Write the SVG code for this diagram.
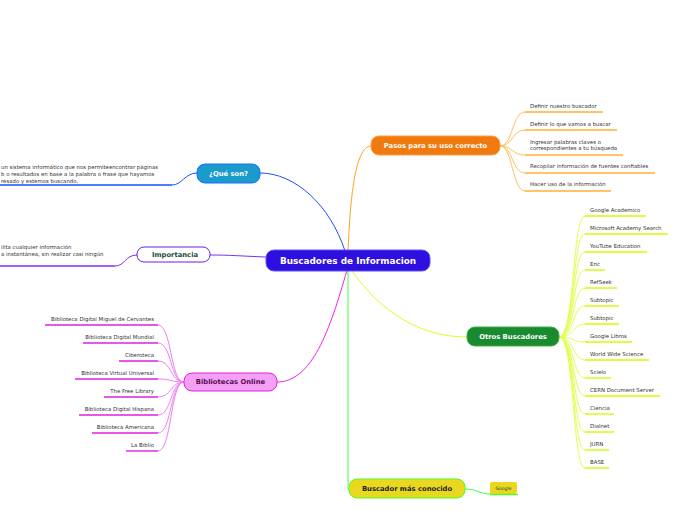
<svg xmlns="http://www.w3.org/2000/svg" width="696" height="520" viewBox="0 0 696 520">
<style>
text{font-family:"DejaVu Sans","Liberation Sans",sans-serif}
.t{font-size:5.4px;fill:#333}
.n{font-size:6.8px;font-weight:bold;text-anchor:middle;dominant-baseline:central}
.c{fill:none;stroke-width:1}
.u{fill:none;stroke-width:1.4}
</style>
<rect width="696" height="520" fill="#fff"/>
<g id="connectors">
<path class="c" stroke="#1a4fff" d="M345,251 C330,205 295,173 260,173"/>
<path class="c" stroke="#7b2ff7" d="M266,257 C240,256 230,255 210,255"/>
<path class="c" stroke="#ffa020" d="M348,252 C350,200 355,146 371,146"/>
<path class="c" stroke="#d4ff20" d="M350,268 C380,312 420,337 467,337"/>
<path class="c" stroke="#f020f0" d="M347,270 C330,330 312,382 277,382"/>
<path class="c" stroke="#40ff40" d="M348,270 L348,489 L349,489"/>
<path class="c" stroke="#40ff40" d="M465,489 C478,489 478,494 491,494"/>
<path class="c" stroke="#1a4fff" d="M197,173 C185,173 182,185 172,185"/>
<path class="c" stroke="#7b2ff7" d="M137,255 C125,255 125,266 115,266"/>
<g stroke="#ffc060" class="c">
<path d="M500,146 C513,146 512,112 525,112"/>
<path d="M500,146 C513,146 512,130 525,130"/>
<path d="M500,146 C513,146 512,155 525,155"/>
<path d="M500,146 C513,146 512,173 525,173"/>
<path d="M500,146 C513,146 512,191 525,191"/>
</g>
<g stroke="#e0ff50" class="c">
<path d="M559,337 C575,337 572,216 585,216"/>
<path d="M559,337 C575,337 572,234 585,234"/>
<path d="M559,337 C575,337 572,252 585,252"/>
<path d="M559,337 C575,337 572,270 585,270"/>
<path d="M559,337 C575,337 572,288 585,288"/>
<path d="M559,337 C575,337 572,306 585,306"/>
<path d="M559,337 C575,337 572,324 585,324"/>
<path d="M559,337 C575,337 572,342 585,342"/>
<path d="M559,337 C575,337 572,360 585,360"/>
<path d="M559,337 C575,337 572,378 585,378"/>
<path d="M559,337 C575,337 572,396 585,396"/>
<path d="M559,337 C575,337 572,414 585,414"/>
<path d="M559,337 C575,337 572,432 585,432"/>
<path d="M559,337 C575,337 572,450 585,450"/>
<path d="M559,337 C575,337 572,468 585,468"/>
</g>
<g stroke="#f080f0" class="c">
<path d="M184,382 C170,382 172,325 158,325"/>
<path d="M184,382 C170,382 172,343 158,343"/>
<path d="M184,382 C170,382 172,361 158,361"/>
<path d="M184,382 C170,382 172,379 158,379"/>
<path d="M184,382 C170,382 172,397 158,397"/>
<path d="M184,382 C170,382 172,415 158,415"/>
<path d="M184,382 C170,382 172,433 158,433"/>
<path d="M184,382 C170,382 172,451 158,451"/>
</g>
</g>
<g id="center">
<rect x="266" y="250" width="164" height="21" rx="8" fill="#2e0fe0" stroke="#5a50ff"/>
<text class="n" x="348" y="261" fill="#fff" style="font-size:8.9px">Buscadores de Informacion</text>
</g>
<g id="que-son">
<rect x="197" y="164" width="63" height="19" rx="8" fill="#1a9bcc" stroke="#1a6fff"/>
<text class="n" x="228.5" y="173.5" fill="#fff">¿Qué son?</text>
<path class="u" stroke="#1a4fff" d="M0,185 H172"/>
<text class="t" x="1" y="169">un sistema informático que nos permiteencontrar páginas</text>
<text class="t" x="1" y="176">b o resultados en base a la palabra o frase que hayamos</text>
<text class="t" x="1" y="183">resado y estemos buscando.</text>
</g>
<g id="importancia">
<rect x="137" y="247" width="73" height="15" rx="7" fill="#fff" stroke="#6a1ee0"/>
<text class="n" x="175" y="254.5" fill="#1a4d3a">Importancia</text>
<path class="u" stroke="#7b2ff7" d="M0,266 H115"/>
<text class="t" x="1" y="249">ilita cualquier información</text>
<text class="t" x="1" y="256">a instantánea, sin realizar casi ningún</text>
</g>
<g id="pasos">
<rect x="371" y="136" width="129" height="19" rx="8" fill="#f07a10" stroke="#ffa040"/>
<text class="n" x="435.5" y="145.5" fill="#fff">Pasos para su uso correcto</text>
<g stroke="#ffb030" class="u">
<path d="M525,112 H603"/>
<path d="M525,130 H617"/>
<path d="M525,155 H623"/>
<path d="M525,173 H655"/>
<path d="M525,191 H611"/>
</g>
<text class="t" x="530" y="107.5">Definir nuestro buscador</text>
<text class="t" x="530" y="125.5">Definir lo que vamos a buscar</text>
<text class="t" x="530" y="143.5">Ingresar palabras claves o</text>
<text class="t" x="530" y="150">correspondientes a tu búsqueda</text>
<text class="t" x="530" y="167.5">Recopilar información de fuentes confiables</text>
<text class="t" x="530" y="185.5">Hacer uso de la información</text>
</g>
<g id="otros">
<rect x="467" y="327" width="92" height="19" rx="8" fill="#1a8a30" stroke="#40b040"/>
<text class="n" x="513" y="336.5" fill="#fff">Otros Buscadores</text>
<g stroke="#ccff00" class="u">
<path d="M585,216 H646"/>
<path d="M585,234 H668"/>
<path d="M585,252 H647"/>
<path d="M585,270 H605"/>
<path d="M585,288 H617"/>
<path d="M585,306 H619"/>
<path d="M585,324 H619"/>
<path d="M585,342 H632"/>
<path d="M585,360 H649"/>
<path d="M585,378 H611"/>
<path d="M585,396 H660"/>
<path d="M585,414 H614"/>
<path d="M585,432 H614"/>
<path d="M585,450 H609"/>
<path d="M585,468 H609"/>
</g>
<text class="t" x="590" y="211.8">Google Academico</text>
<text class="t" x="590" y="229.8">Microsoft Academy Search</text>
<text class="t" x="590" y="247.8">YouTube Education</text>
<text class="t" x="590" y="265.8">Eric</text>
<text class="t" x="590" y="283.8">RefSeek</text>
<text class="t" x="590" y="301.8">Subtopic</text>
<text class="t" x="590" y="319.8">Subtopic</text>
<text class="t" x="590" y="337.8">Google Libros</text>
<text class="t" x="590" y="355.8">World Wide Science</text>
<text class="t" x="590" y="373.8">Scielo</text>
<text class="t" x="590" y="391.8">CERN Document Server</text>
<text class="t" x="590" y="409.8">Ciencia</text>
<text class="t" x="590" y="427.8">Dialnet</text>
<text class="t" x="590" y="445.8">JURN</text>
<text class="t" x="590" y="463.8">BASE</text>
</g>
<g id="bibliotecas">
<rect x="184" y="373" width="93" height="18" rx="8" fill="#f4a0f4" stroke="#e020e0"/>
<text class="n" x="230.5" y="382" fill="#5a0a5a">Bibliotecas Online</text>
<g stroke="#e020e0" class="u">
<path d="M45,325 H158"/>
<path d="M83,343 H158"/>
<path d="M119,361 H158"/>
<path d="M75,379 H158"/>
<path d="M104,397 H158"/>
<path d="M79,415 H158"/>
<path d="M92,433 H158"/>
<path d="M126,451 H158"/>
</g>
<g class="t" style="text-anchor:end">
<text x="154" y="320.8">Biblioteca Digital Miguel de Cervantes</text>
<text x="154" y="338.8">Biblioteca Digital Mundial</text>
<text x="154" y="356.8">Ciberoteca</text>
<text x="154" y="374.8">Biblioteca Virtual Universal</text>
<text x="154" y="392.8">The Free Library</text>
<text x="154" y="410.8">Biblioteca Digital Hispana</text>
<text x="154" y="428.8">Biblioteca Americana</text>
<text x="154" y="446.8">La Biblio</text>
</g>
</g>
<g id="conocido">
<rect x="349" y="479" width="116" height="19" rx="8" fill="#e8d820" stroke="#50ff20"/>
<text class="n" x="407" y="488.5" fill="#222">Buscador más conocido</text>
</g>
<g id="google">
<rect x="490" y="482" width="27" height="12" rx="2" fill="#e8d820"/>
<path class="u" stroke="#50ff20" d="M490,494.5 H518"/>
<text class="t" x="503.5" y="490" style="text-anchor:middle;font-size:4.6px">Google</text>
</g>
</svg>
